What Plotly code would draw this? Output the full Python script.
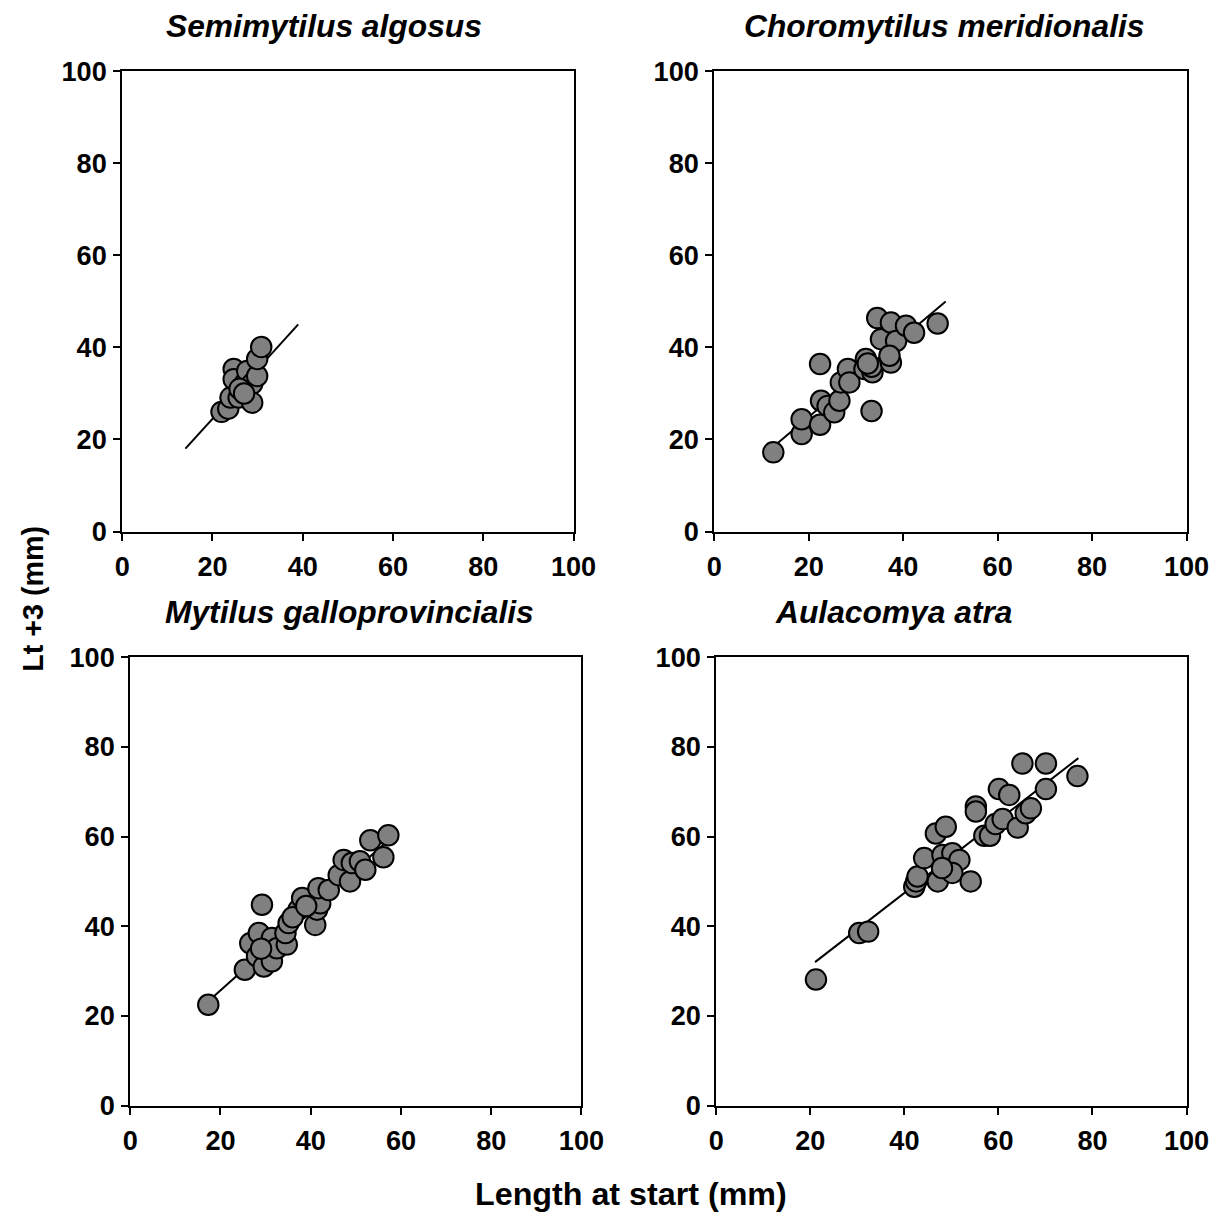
import plotly.graph_objects as go

# ---- data ----
species = ["Semimytilus algosus", "Choromytilus meridionalis",
           "Mytilus galloprovincialis", "Aulacomya atra"]

sa_x = [22, 23.5, 24, 25.8, 24.7, 24.7, 27.3, 27.7, 28.8, 28.8, 29.9, 29.9, 30.8, 26, 27]
sa_y = [26, 26.7, 29.1, 29.1, 35.3, 33.1, 32.4, 34.9, 32.1, 28.0, 33.8, 37.5, 40.1, 31, 30]
sa_line_x = [14, 39]
sa_line_y = [18, 45]

cm_x = [12.5, 18.5, 18.5, 22.4, 22.4, 22.6, 24.0, 25.4, 26.5, 26.8, 28.3, 28.6, 32.1, 31.8,
        33.5, 33.3, 33.3, 34.5, 35.3, 37.4, 37.4, 38.5, 40.6, 42.3, 47.3, 37.1, 32.5]
cm_y = [17.2, 21.2, 24.4, 23.2, 36.4, 28.4, 27.3, 25.9, 28.4, 32.4, 35.3, 32.4, 37.5, 35.3,
        34.6, 26.2, 35.8, 46.4, 41.8, 45.4, 36.7, 41.4, 44.7, 43.2, 45.2, 38.2, 36.5]
cm_line_x = [12, 49]
cm_line_y = [18, 50]

mg_x = [17.3, 25.4, 29.2, 26.6, 28.5, 28.1, 29.6, 31.4, 31.4, 32.5, 34.7, 34.4, 35.1, 37.3,
        38.1, 41.0, 41.4, 42.1, 41.7, 44.0, 46.2, 47.3, 48.7, 49.1, 50.9, 52.1, 53.2, 56.1, 57.2,
        29.0, 36.0, 39.0]
mg_y = [22.5, 30.3, 44.8, 36.2, 38.5, 33.3, 31.0, 32.2, 37.4, 35.1, 35.9, 38.5, 40.7, 43.7,
        46.3, 40.3, 43.7, 45.1, 48.5, 48.1, 51.4, 54.8, 50.0, 54.1, 54.5, 52.6, 59.2, 55.4, 60.3,
        35.0, 42.0, 44.5]
mg_line_x = [17, 57]
mg_line_y = [23, 59]

aa_x = [21.2, 30.4, 32.3, 42.1, 42.5, 42.8, 44.2, 46.7, 48.8, 47.1, 48.1, 50.2, 51.7, 50.2,
        54.1, 55.2, 55.2, 57.0, 58.2, 60.1, 62.3, 59.4, 60.9, 64.1, 65.1, 65.8, 66.9, 70.1,
        70.1, 76.8, 48.0]
aa_y = [28.1, 38.5, 38.8, 48.8, 50.0, 51.1, 55.2, 60.7, 62.2, 50.0, 55.9, 56.3, 54.8, 51.9,
        50.0, 66.7, 65.6, 60.2, 60.2, 70.6, 69.3, 62.8, 63.9, 62.0, 76.3, 65.2, 66.3, 76.3,
        70.6, 73.5, 53.0]
aa_line_x = [21, 77]
aa_line_y = [32, 77.5]

tick_vals = [0, 20, 40, 60, 80, 100]
tick_text = ["0", "20", "40", "60", "80", "100"]

W, H = 1223, 1217
# empirical capture transform: shot = S * (fig + 8) + (OX, OY)
S, OX, OY, BODY = 0.9762, 5.8, 13.8, 8


def fx(px):
    return ((px - OX) / S - BODY) / W


def fy(py):
    return 1 - ((py - OY) / S - BODY) / H


def sz(v):
    return v / S


panels = [
    (sa_x, sa_y, sa_line_x, sa_line_y, (120, 572), (70, 531), (322, 25)),
    (cm_x, cm_y, cm_line_x, cm_line_y, (713, 1186), (70, 531), (943, 25)),
    (mg_x, mg_y, mg_line_x, mg_line_y, (128, 580), (657, 1106), (348, 612)),
    (aa_x, aa_y, aa_line_x, aa_line_y, (715, 1186), (657, 1106), (893, 612)),
]

FONT = "Liberation Sans, Arial, sans-serif"
fig = go.Figure()
annotations = []
for i, (px, py, lx, ly, (x0, x1), (y0, y1), (tx, ty)) in enumerate(panels):
    n = "" if i == 0 else str(i + 1)
    xa, ya = "x" + n, "y" + n
    fig.add_trace(go.Scatter(x=lx, y=ly, mode="lines", xaxis=xa, yaxis=ya,
                             line=dict(color="black", width=2), showlegend=False,
                             hoverinfo="skip"))
    fig.add_trace(go.Scatter(x=px, y=py, mode="markers", xaxis=xa, yaxis=ya,
                             marker=dict(size=sz(20), color="#808080",
                                         line=dict(color="black", width=2)),
                             showlegend=False))
    axcommon = dict(range=[0, 100], tickvals=tick_vals, ticktext=tick_text,
                    ticks="outside", ticklen=7, tickwidth=2, tickcolor="black",
                    showline=True, linecolor="black", linewidth=2, mirror=True,
                    showgrid=False, zeroline=False, fixedrange=True,
                    tickfont=dict(family=FONT, size=sz(26.5), color="black", weight="bold"))
    fig.layout["xaxis" + n] = dict(domain=[fx(x0), fx(x1)], anchor=ya,
                                   ticklabelstandoff=3, **axcommon)
    fig.layout["yaxis" + n] = dict(domain=[fy(y1), fy(y0)], anchor=xa,
                                   ticklabelstandoff=1, **axcommon)
    annotations.append(dict(text=species[i], x=fx(tx), y=fy(ty), xref="paper",
                            yref="paper", showarrow=False, xanchor="center",
                            yanchor="middle",
                            font=dict(family=FONT, size=sz(31), color="black",
                                      weight="bold", style="italic")))

annotations.append(dict(text="Lt +3 (mm)", x=fx(31), y=fy(598), xref="paper",
                        yref="paper", showarrow=False, textangle=-90,
                        xanchor="center", yanchor="middle",
                        font=dict(family=FONT, size=sz(28), color="black", weight="bold")))
annotations.append(dict(text="Length at start (mm)", x=fx(630), y=fy(1195),
                        xref="paper", yref="paper", showarrow=False,
                        xanchor="center", yanchor="middle",
                        font=dict(family=FONT, size=sz(31.5), color="black", weight="bold")))

fig.update_layout(width=W, height=H, margin=dict(l=0, r=0, t=0, b=0),
                  plot_bgcolor="white", paper_bgcolor="white",
                  annotations=annotations)
fig.write_html("out.html")
